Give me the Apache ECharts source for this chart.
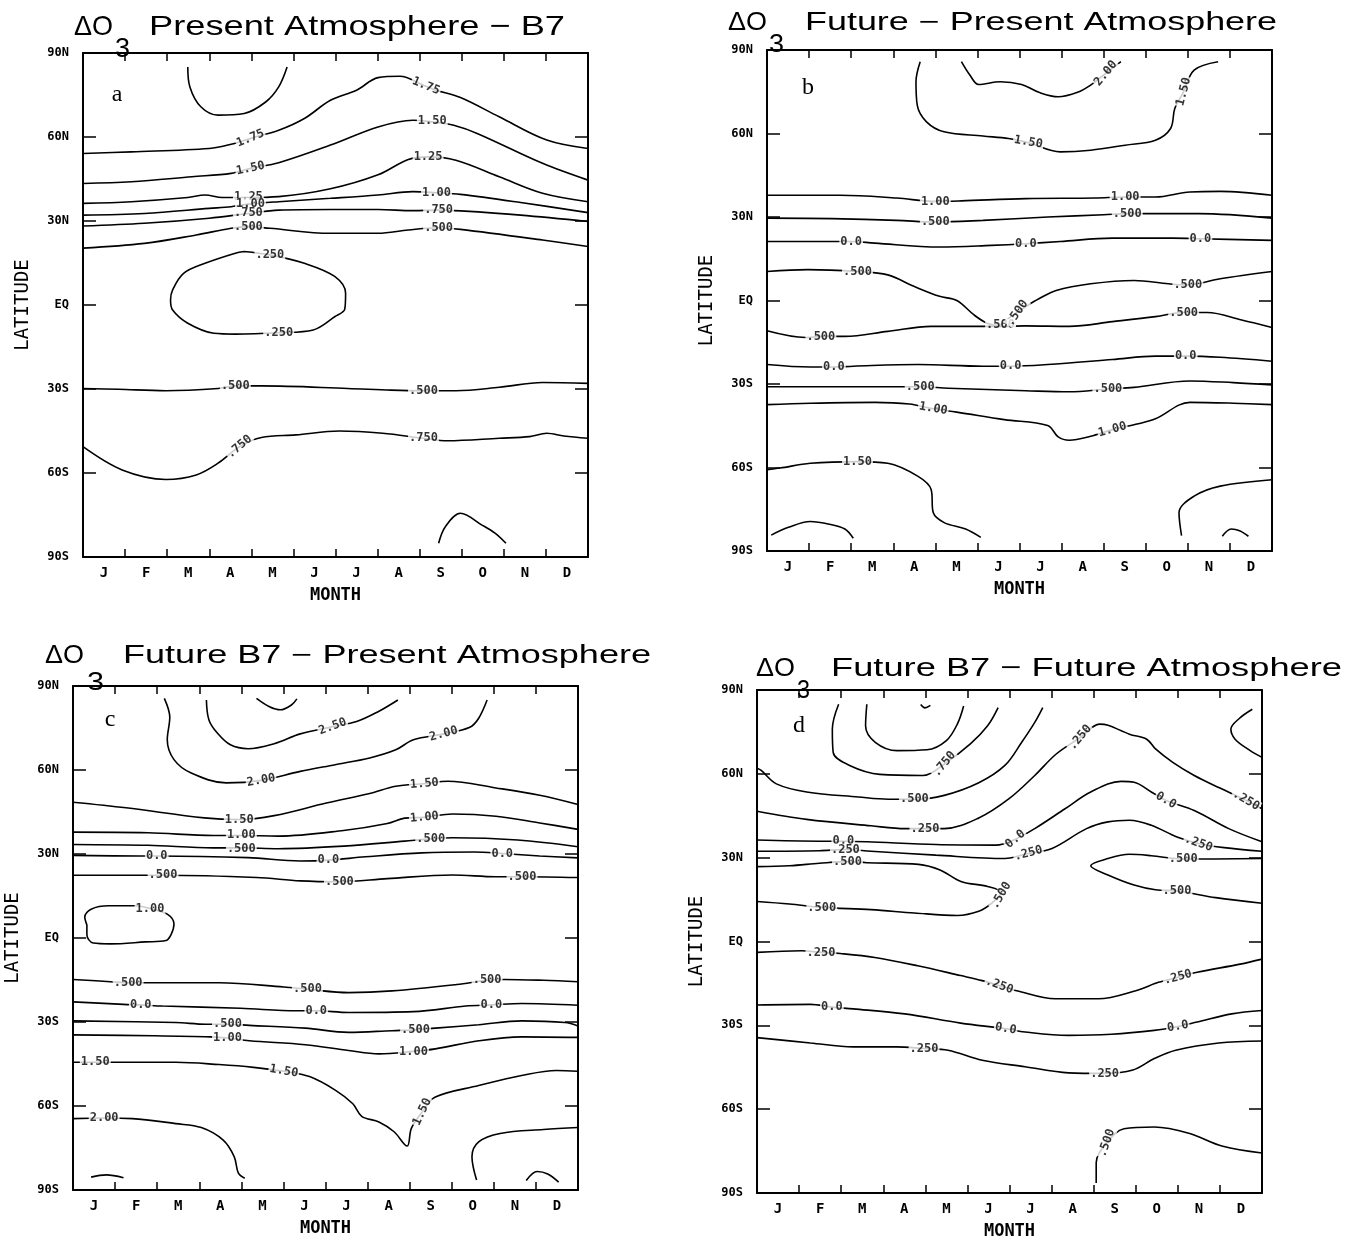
<!DOCTYPE html>
<html><head><meta charset="utf-8">
<script src="https://cdn.jsdelivr.net/npm/echarts@6/dist/echarts.min.js"></script>
<style>html,body{margin:0;padding:0;background:#fff}#c{width:1359px;height:1246px}</style>
</head><body><div id="c"></div>
<script>
// ---------- tick labels ----------
const months = ['J','F','M','A','M','J','J','A','S','O','N','D'];
const latLabels = ['90S','60S','30S','EQ','30N','60N','90N'];

// ---------- panel a contours [month, latitude] ----------
const A_arcTop = [[2.49,85],[2.54,77.9],[2.80,70.8],[3.21,67.8],[3.83,68.4],[4.34,72.5],[4.65,77.9],[4.85,85]];
const A_175 = [[0,54.1],[1.15,54.7],[3.0,55.9],[3.52,57.4],[3.98,59.5],[4.65,62.4],[5.26,66.6],[5.88,73.1],[6.50,76.7],[7.01,81.2],[7.53,81.7],[8.09,78.5],[8.35,76.9],[8.97,74.1],[9.89,67.2],[11.02,58.9],[12,55.9]];
const A_150 = [[0,43.4],[1.15,44.0],[2.59,45.8],[3.52,47.0],[3.98,48.8],[4.65,50.8],[5.88,57.1],[7.01,63.6],[7.84,66.0],[8.30,65.4],[8.81,64.2],[9.38,61.2],[10.92,50.6],[12,44.6]];
const A_125 = [[0,36.3],[1.15,36.9],[2.49,38.4],[2.90,39.3],[3.31,38.4],[3.93,38.4],[4.65,38.7],[5.88,41.5],[7.01,46.5],[7.73,52.0],[8.2,52.9],[8.86,51.7],[9.89,45.8],[10.92,39.9],[12,36.9]];
const A_100 = [[0,32.1],[1.46,32.7],[3.0,34.5],[3.52,35.1],[3.98,36.1],[4.65,36.9],[5.88,38.1],[7.01,39.3],[7.84,40.5],[8.40,40.1],[8.97,39.5],[10.4,36.6],[12,33.0]];
const A_075 = [[0,28.2],[1.46,29.2],[3.0,31.0],[3.93,32.7],[4.65,33.9],[5.88,34.1],[7.01,34.1],[7.84,33.7],[8.45,33.9],[8.97,33.6],[10.4,32.1],[12,29.8]];
const A_050 = [[0,20.3],[1.46,22.0],[2.69,25.0],[3.52,27.4],[3.93,28.0],[4.44,27.4],[5.88,25.6],[7.01,25.6],[7.73,26.8],[8.45,27.6],[8.97,27.0],[10.92,23.2],[12,20.9]];
const A_025loop = [[3.83,19.1],[4.44,17.9],[5.26,14.9],[5.98,10.2],[6.24,4.2],[6.22,-1.5],[5.98,-4.2],[5.47,-8.9],[4.65,-9.9],[3.62,-10.4],[3.11,-10.1],[2.49,-6.5],[2.13,-1.8],[2.08,1.8],[2.13,5.4],[2.39,11.3],[2.90,14.9],[3.62,18.5],[3.83,19.1]];
const A_050s = [[0,-29.8],[0.84,-30.1],[1.97,-30.6],[3.21,-29.8],[3.62,-28.9],[4.24,-28.9],[6.29,-29.8],[7.32,-30.4],[8.09,-30.6],[8.86,-30.6],[9.89,-29.4],[10.92,-27.7],[12,-28.0]];
const A_075s = [[0,-50.6],[0.93,-58.9],[1.97,-62.3],[2.69,-60.7],[3.21,-56.5],[3.72,-50.6],[4.24,-47.3],[5.06,-46.4],[6.09,-45.0],[7.12,-45.8],[8.09,-47.6],[8.66,-48.5],[9.89,-47.6],[10.61,-47.0],[11.02,-45.8],[11.43,-46.8],[12,-47.6]];
const A_arcBot = [[8.45,-85.1],[8.61,-79.2],[8.97,-74.4],[9.48,-78.6],[9.79,-81.5],[10.05,-85.1]];
const A_labels = [['1.75',8.15,78.2,-22],['1.75',3.98,59.5,22],['1.50',3.98,48.8,12],['1.50',8.30,65.6,0],
  ['1.25',3.93,38.6,0],['1.00',3.98,36.0,0],['.750',3.93,32.8,0],['.500',3.93,28.0,0],
  ['1.25',8.2,52.9,0],['1.00',8.40,40.1,0],['.750',8.45,33.9,0],['.500',8.45,27.6,0],
  ['.250',4.44,17.9,0],['.250',4.65,-9.9,0],['.500',3.62,-28.9,0],['.500',8.09,-30.6,0],
  ['.750',3.72,-50.6,40],['.750',8.09,-47.6,0]];
const panelA = [A_arcTop,A_175,A_150,A_125,A_100,A_075,A_050,A_025loop,A_050s,A_075s,A_arcBot];

// ---------- panel b ----------
const B_200 = [[4.62,85.8],[4.82,81.0],[5.03,77.6],[5.54,78.6],[6.05,77.6],[6.46,74.8],[6.92,73.2],[7.38,74.8],[7.69,77.4],[8.05,81.6],[8.41,85.8]];
const B_150n = [[3.64,85.8],[3.54,78.6],[3.57,70.2],[3.79,64.2],[4.21,60.6],[5.13,59.1],[5.74,58.2],[6.21,56.7],[6.97,53.4],[7.69,54.0],[8.51,55.8],[9.23,57.6],[9.59,61.8],[9.69,69.0],[9.90,75.0],[10.15,82.8],[10.72,85.8]];
const B_100n = [[0,37.8],[1.74,37.8],[3.08,36.8],[4.0,35.6],[4.62,35.8],[6.15,36.6],[7.79,36.8],[8.51,37.2],[9.23,37.2],[10.05,39.0],[10.77,39.2],[12,37.8]];
const B_050n = [[0,29.6],[1.54,29.4],[3.08,28.8],[4.0,28.2],[5.13,28.8],[6.67,30.0],[8.0,30.8],[8.56,31.2],[10.26,31.2],[12,29.6]];
const B_000n = [[0,21.2],[1.33,21.2],[2.0,21.2],[2.56,20.6],[4.10,19.2],[5.33,19.8],[6.15,20.4],[6.97,21.2],[8.21,22.4],[9.64,22.4],[10.3,22.2],[12,21.6]];
const B_050v = [[0,10.4],[0.97,11.1],[2.15,10.4],[2.87,9.2],[3.49,5.1],[4.10,1.5],[4.51,0],[4.92,-5.2],[5.23,-8.2],[5.49,-9.0],[5.79,-5.8],[6.15,-2.2],[6.46,0.6],[6.87,3.6],[7.69,6.0],[8.72,7.2],[9.54,6.0],[10.0,5.6],[10.77,7.8],[12,10.4]];
const B_050s = [[0,-10.9],[0.92,-13.3],[1.28,-12.9],[1.85,-12.9],[2.87,-11.1],[3.90,-9.3],[5.13,-9.3],[5.59,-9.3],[6.15,-9.1],[7.18,-9.3],[8.21,-7.6],[9.23,-5.8],[9.90,-4.3],[10.46,-4.3],[11.28,-7.0],[12,-9.7]];
const B_000s = [[0,-23.0],[1.03,-23.9],[1.59,-23.9],[2.05,-23.6],[3.59,-23.0],[5.13,-23.6],[5.79,-23.6],[6.67,-23.0],[8.21,-21.2],[9.23,-20.0],[9.95,-20.0],[10.77,-20.4],[12,-21.8]];
const B_050s2 = [[0,-31.0],[1.54,-31.0],[2.87,-31.0],[3.64,-31.0],[4.31,-31.5],[6.15,-32.4],[7.18,-32.8],[8.10,-31.8],[8.72,-31.2],[10.05,-28.9],[11.08,-29.5],[12,-30.3]];
const B_100s = [[0,-37.4],[1.03,-36.9],[2.56,-36.6],[3.38,-37.2],[3.95,-38.9],[4.51,-40.1],[5.64,-42.8],[6.67,-44.9],[6.92,-49.0],[7.18,-50.2],[7.69,-48.8],[8.21,-46.4],[8.82,-44.3],[9.23,-42.5],[10.05,-36.6],[11.08,-36.9],[12,-37.4]];
const B_150s = [[0,-60.8],[0.31,-60.2],[1.03,-58.5],[2.15,-57.9],[2.87,-58.5],[3.59,-63.2],[3.90,-67.9],[3.95,-76.2],[4.21,-79.8],[4.72,-82.1],[5.08,-85.1]];
const B_150se = [[12,-64.4],[10.77,-66.7],[10.15,-70.3],[9.79,-76.2],[9.85,-84.5]];
const B_arc1 = [[0.10,-84.3],[0.51,-81.5],[1.03,-79.4],[1.49,-80.4],[1.85,-82.1],[2.05,-85.4]];
const B_arc2 = [[10.82,-84.7],[11.03,-82.1],[11.23,-82.7],[11.44,-84.7]];
const B_labels = [['2.00',8.05,81.6,50],['1.50',6.21,56.9,-10],['1.50',9.90,75.0,75],
  ['1.00',4.0,35.6,0],['1.00',8.51,37.2,0],['.500',4.0,28.2,0],['.500',8.56,31.2,0],
  ['0.0',2.0,21.2,0],['0.0',6.15,20.4,0],['0.0',10.3,22.2,0],
  ['.500',2.15,10.4,0],['.500',10.0,5.6,0],['.500',5.55,-8.8,0],['.500',5.95,-4.5,55],
  ['.500',1.28,-12.9,0],['.500',9.90,-4.3,0],
  ['0.0',1.59,-23.9,0],['0.0',5.79,-23.6,0],['0.0',9.95,-20.0,0],
  ['.500',3.64,-31.0,0],['.500',8.10,-31.8,0],['1.00',3.95,-38.9,-10],['1.00',8.21,-46.4,15],
  ['1.50',2.15,-57.9,0]];
const panelB = [B_200,B_150n,B_100n,B_050n,B_000n,B_050v,B_050s,B_000s,B_050s2,B_100s,B_150s,B_150se,B_arc1,B_arc2];

// ---------- panel c ----------
const C_arc = [[4.36,85.6],[4.67,82.6],[4.93,81.5],[5.19,83.2],[5.32,85.4]];
const C_250 = [[3.17,85.0],[3.23,77.9],[3.43,73.2],[3.74,69.0],[4.16,67.6],[4.78,69.4],[5.40,72.9],[6.17,75.5],[6.74,77.3],[7.26,80.9],[7.72,85.0]];
const C_200n = [[2.17,85.6],[2.30,78.8],[2.24,70.8],[2.40,63.7],[2.81,58.9],[3.64,55.4],[4.47,56.3],[5.40,59.5],[6.23,61.9],[7.05,64.3],[7.67,67.2],[8.09,70.8],[8.81,72.9],[9.43,75.3],[9.64,78.5],[9.84,85.0]];
const C_150n = [[0,48.5],[1.26,46.5],[3.12,42.9],[3.95,42.3],[4.78,43.7],[6.02,48.2],[7.05,51.6],[7.67,54.2],[8.35,55.1],[8.91,56.0],[10.05,53.6],[11.09,51.0],[12,47.7]];
const C_100n = [[0,37.8],[1.78,37.6],[3.33,36.6],[4.0,36.6],[4.88,36.4],[6.43,38.4],[7.47,40.9],[7.88,42.8],[8.35,43.1],[9.02,44.3],[10.05,43.5],[11.09,41.1],[12,38.8]];
const C_050n = [[0,33.4],[1.78,33.1],[3.33,32.2],[4.0,32.2],[4.88,31.9],[6.43,32.8],[7.88,34.6],[8.50,35.4],[9.02,35.8],[10.57,35.0],[12,32.6]];
const C_000n = [[0,29.5],[1.57,29.3],[1.99,29.3],[4.16,28.7],[5.40,27.5],[6.07,27.8],[6.95,29.0],[8.29,30.4],[9.53,30.7],[10.2,30.2],[11.09,29.3],[12,28.6]];
const C_050m = [[0,22.4],[1.68,22.4],[2.14,22.4],[4.36,21.6],[5.40,20.4],[6.33,20.1],[7.47,21.2],[9.02,22.5],[10.05,21.9],[10.67,21.9],[12,21.6]];
const C_100loop = [[0.33,4.7],[0.28,7.5],[0.43,10.3],[0.85,11.5],[1.47,11.5],[1.83,10.5],[2.24,8.5],[2.40,5.0],[2.33,1.2],[2.21,-0.9],[1.72,-1.4],[0.89,-2.1],[0.48,-1.8],[0.33,1.2],[0.33,4.7]];
const C_050s = [[0,-14.8],[0.89,-15.6],[1.31,-16.0],[1.82,-16.0],[3.47,-16.0],[5.01,-17.5],[5.57,-18.3],[6.55,-19.5],[7.58,-18.9],[9.12,-16.6],[9.84,-15.1],[10.25,-14.8],[11.18,-15.1],[12,-15.6]];
const C_000s = [[0,-22.8],[1.20,-23.7],[1.61,-23.9],[2.13,-24.3],[3.98,-25.1],[5.32,-26.0],[5.78,-26.0],[6.55,-26.6],[8.09,-26.3],[9.33,-24.3],[9.94,-23.9],[10.66,-23.4],[12,-24.0]];
const C_050s2 = [[0,-29.6],[2.44,-30.2],[3.16,-30.8],[3.67,-30.8],[4.19,-31.2],[5.52,-32.2],[6.55,-33.7],[7.58,-33.1],[8.14,-32.8],[8.61,-32.2],[9.64,-31.0],[10.66,-29.6],[11.69,-30.2],[12,-31.4]];
const C_100s = [[0,-34.6],[1.92,-34.9],[3.26,-35.3],[3.67,-35.7],[4.19,-36.7],[5.52,-38.1],[6.55,-40.2],[7.27,-41.4],[8.09,-40.5],[8.61,-39.6],[9.64,-36.7],[10.66,-35.3],[12,-35.5]];
const C_150s = [[0,-44.4],[0.53,-44.4],[1.10,-44.4],[2.44,-44.4],[3.47,-45.2],[4.29,-46.2],[5.01,-47.6],[5.62,-49.5],[6.24,-54.4],[6.65,-59.2],[6.86,-63.7],[7.27,-65.7],[7.63,-69.2],[7.94,-74.3],[8.04,-68.0],[8.30,-62.1],[8.61,-56.8],[9.64,-52.7],[10.66,-49.1],[11.49,-47.3],[12,-47.6]];
const C_200s = [[0,-64.5],[0.74,-64.3],[1.41,-64.5],[2.44,-66.3],[3.05,-67.7],[3.57,-72.2],[3.83,-78.1],[3.93,-84.0],[4.08,-85.8]];
const C_se = [[12,-67.7],[11.18,-68.4],[10.15,-69.8],[9.64,-72.8],[9.48,-78.1],[9.59,-86.4]];
const C_arc2 = [[0.43,-85.4],[0.79,-84.6],[1.20,-85.6]];
const C_arc3 = [[10.77,-86.6],[11.03,-83.4],[11.28,-84.3],[11.54,-87.2]];
const C_labels = [['2.50',6.17,75.5,20],['2.00',8.81,72.9,15],['2.00',4.47,56.3,10],
  ['1.50',8.35,55.1,5],['1.50',3.95,42.3,0],['1.00',8.35,43.1,5],['1.00',4.0,36.9,0],
  ['.500',8.50,35.4,0],['.500',4.0,32.0,0],
  ['0.0',1.99,29.3,0],['0.0',6.07,27.8,0],['0.0',10.2,30.2,0],
  ['.500',2.14,22.4,0],['.500',6.33,20.1,0],['.500',10.67,21.9,0],['1.00',1.83,10.5,0],
  ['.500',1.31,-16.0,0],['.500',5.57,-18.3,0],['.500',9.84,-15.1,0],
  ['0.0',1.61,-23.9,0],['0.0',5.78,-26.0,0],['0.0',9.94,-23.9,0],
  ['.500',3.67,-30.8,0],['.500',8.14,-32.8,0],['1.00',3.67,-35.7,0],['1.00',8.09,-40.5,0],
  ['1.50',0.53,-44.4,0],['1.50',5.01,-47.6,-10],['1.50',8.30,-62.1,65],['2.00',0.74,-64.3,0]];
const panelC = [C_arc,C_250,C_200n,C_150n,C_100n,C_050n,C_000n,C_050m,C_100loop,C_050s,C_000s,C_050s2,C_100s,C_150s,C_200s,C_se,C_arc2,C_arc3];

// ---------- panel d ----------
const D_tiny = [[3.89,84.8],[3.99,83.6],[4.12,84.5]];
const D_in = [[2.61,84.9],[2.58,77.2],[2.81,71.3],[3.33,68.3],[4.04,68.6],[4.50,71.9],[4.76,77.8],[4.91,84.3]];
const D_075 = [[1.94,84.9],[1.79,76.0],[1.81,67.7],[2.20,63.0],[2.92,59.8],[3.94,59.4],[4.45,63.5],[5.07,70.7],[5.48,77.2],[5.73,83.7]];
const D_050n = [[0,62.0],[0.10,61.2],[0.46,56.4],[1.18,53.5],[2.41,51.7],[3.12,50.9],[3.74,50.9],[4.45,52.3],[5.27,56.8],[5.89,63.0],[6.29,71.3],[6.60,78.4],[6.79,83.7]];
const D_025a = [[0,46.6],[1.18,43.7],[2.71,41.4],[3.53,40.4],[3.99,40.4],[4.45,40.4],[5.27,44.2],[5.99,51.1],[6.60,59.4],[7.11,67.1],[7.68,73.0],[8.14,77.8],[8.34,77.4],[8.85,74.2],[9.26,72.4],[9.47,68.9],[9.88,64.1],[10.39,59.4],[11.0,54.9],[11.62,50.5],[12,47.5]];
const D_000n = [[0,36.3],[1.48,35.9],[2.05,35.9],[2.61,35.7],[4.25,34.7],[5.68,34.5],[6.14,36.6],[6.60,40.4],[7.32,47.5],[7.93,53.5],[8.65,57.3],[8.96,57.0],[9.37,53.5],[9.72,50.5],[10.39,46.9],[11.21,40.4],[12,35.7]];
const D_025b = [[0,32.3],[1.48,32.5],[2.10,32.9],[2.71,32.3],[4.25,30.9],[5.89,29.7],[6.45,31.5],[7.01,33.3],[7.83,40.4],[8.34,42.8],[8.85,43.4],[9.37,41.6],[9.98,37.4],[10.49,35.1],[11.1,33.6],[12,32.3]];
const D_050tL = [[0,26.8],[0.77,27.1],[1.48,28.0],[2.15,28.6],[2.61,28.2],[3.84,27.6],[4.35,25.6],[4.86,21.4],[5.48,19.7],[5.80,17.5],[5.58,13.7],[5.27,10.8],[4.76,9.3],[3.74,10.2],[2.71,11.4],[1.54,12.2],[0.77,13.4],[0,14.3]];
const D_050tR = [[12,29.7],[10.13,29.5],[9.37,30.7],[8.85,31.2],[8.34,29.7],[7.93,27.1],[8.34,23.8],[8.96,20.2],[9.47,18.5],[9.98,18.1],[10.90,15.7],[12,13.7]];
const D_tr = [[11.77,83.1],[11.46,79.8],[11.26,76.0],[11.36,72.4],[11.72,68.3],[12,65.9]];
const D_025s1 = [[0,-3.9],[1.06,-3.3],[1.52,-3.9],[1.98,-4.3],[2.80,-5.7],[3.82,-8.7],[4.84,-12.2],[5.35,-14.0],[5.76,-15.8],[6.17,-17.6],[7.09,-20.5],[8.11,-20.5],[9.0,-17.6],[9.54,-14.6],[10.0,-12.8],[10.46,-11.0],[11.48,-8.1],[12,-6.3]];
const D_000s = [[0,-22.7],[1.27,-22.5],[1.78,-23.5],[2.29,-24.1],[3.51,-25.9],[4.84,-29.2],[5.91,-31.2],[6.37,-32.4],[7.40,-33.6],[8.42,-33.2],[9.44,-31.8],[10.0,-30.4],[10.46,-28.8],[11.28,-25.9],[12,-24.7]];
const D_025s2 = [[0,-34.4],[1.27,-36.3],[2.29,-37.7],[3.31,-37.7],[3.97,-38.3],[4.54,-38.9],[5.35,-42.5],[6.37,-44.8],[7.40,-47.0],[8.26,-47.2],[8.93,-46.0],[9.44,-41.9],[9.95,-38.9],[10.97,-36.3],[12,-35.6]];
const D_050s = [[8.06,-86.4],[8.06,-79.2],[8.31,-72.1],[8.72,-67.0],[9.44,-66.4],[10.26,-68.6],[11.07,-73.3],[12,-75.7]];
const D_labels = [['.750',4.45,63.5,50],['.500',3.74,50.9,0],['.250',3.99,40.4,0],['.250',7.68,73.0,50],['.250',11.62,50.5,-30],
  ['0.0',2.05,35.9,0],['0.0',6.14,36.6,40],['0.0',9.72,50.5,-30],
  ['.250',2.10,32.9,0],['.250',6.45,31.5,15],['.250',10.49,35.1,-20],
  ['.500',2.15,28.6,0],['.500',5.80,16.5,60],['.500',10.13,29.5,0],['.500',9.98,18.1,0],['.500',1.54,12.2,0],
  ['.250',1.52,-3.9,0],['.250',5.76,-15.8,-20],['.250',10.0,-12.8,15],
  ['0.0',1.78,-23.5,0],['0.0',5.91,-31.2,-10],['0.0',10.0,-30.4,10],
  ['.250',3.97,-38.3,0],['.250',8.26,-47.2,0],['.500',8.31,-72.1,70]];
const panelD = [D_tiny,D_in,D_075,D_050n,D_025a,D_000n,D_025b,D_050tL,D_050tR,D_tr,D_025s1,D_000s,D_025s2,D_050s];

// ---------- layout ----------
const grids = [
  {left:83, top:53, width:505, height:504},
  {left:767, top:50, width:505, height:501},
  {left:73, top:686, width:505, height:504},
  {left:757, top:690, width:505, height:503}
];
const panels = [[panelA,A_labels],[panelB,B_labels],[panelC,C_labels],[panelD,D_labels]];

const MONO = "'DejaVu Sans Mono', monospace";
const xAxes = [], yAxes = [], series = [];
grids.forEach((g, i) => {
  xAxes.push({gridIndex:i, type:'value', position:'bottom', min:0, max:12, interval:1,
    axisLine:{onZero:false, lineStyle:{color:'#000', width:2}}, axisTick:{inside:true, length:8, lineStyle:{width:1.5, color:'#000'}},
    axisLabel:{show:false}, splitLine:{show:false}});
  xAxes.push({gridIndex:i, type:'category', position:'bottom', data:months, boundaryGap:true,
    axisLine:{show:false, onZero:false}, axisTick:{show:false}, splitLine:{show:false},
    axisLabel:{color:'#000', fontFamily:MONO, fontWeight:'bold', fontSize:14, margin:9},
    name:'MONTH', nameLocation:'middle', nameGap:30,
    nameTextStyle:{color:'#000', fontFamily:MONO, fontWeight:'bold', fontSize:17}});
  xAxes.push({gridIndex:i, type:'value', position:'top', min:0, max:12, interval:1,
    axisLine:{onZero:false, lineStyle:{color:'#000', width:2}}, axisTick:{inside:true, length:8, lineStyle:{width:1.5, color:'#000'}},
    axisLabel:{show:false}, splitLine:{show:false}});
  yAxes.push({gridIndex:i, type:'value', position:'left', min:-90, max:90, interval:30,
    axisLine:{onZero:false, lineStyle:{color:'#000', width:2}}, axisTick:{inside:true, length:13, lineStyle:{width:1.5, color:'#000'}},
    axisLabel:{color:'#000', fontFamily:MONO, fontWeight:'bold', fontSize:12, margin:14,
      formatter:v => latLabels[Math.round((v + 90) / 30)]},
    splitLine:{show:false},
    name:'LATITUDE', nameLocation:'middle', nameGap:50, nameRotate:90,
    nameTextStyle:{color:'#000', fontFamily:MONO, fontSize:19}});
  yAxes.push({gridIndex:i, type:'value', position:'right', min:-90, max:90, interval:30,
    axisLine:{onZero:false, lineStyle:{color:'#000', width:2}}, axisTick:{inside:true, length:13, lineStyle:{width:1.5, color:'#000'}},
    axisLabel:{show:false}, splitLine:{show:false}});
  const [lines, labels] = panels[i];
  lines.forEach(pts => series.push({type:'line', xAxisIndex:3*i, yAxisIndex:2*i, data:pts,
    smooth:0.35, symbol:'none', silent:true, z:2,
    lineStyle:{color:'#000', width:1.6}}));
  series.push({type:'scatter', xAxisIndex:3*i, yAxisIndex:2*i, symbolSize:1, silent:true, z:5,
    itemStyle:{color:'rgba(0,0,0,0)'},
    data: labels.map(l => ({name:l[0], value:[l[1], l[2]], label:{rotate:l[3]}})),
    label:{show:true, position:'inside', formatter:p => p.name, color:'#000',
      fontFamily:MONO, fontWeight:'bold', fontSize:12, backgroundColor:'#fff', padding:[0,1]}});
});

// ---------- titles (text fitted to reference spans) ----------
const meas = document.createElement('canvas').getContext('2d');
const TFONT = "'Liberation Sans', Arial, sans-serif";
function fitText(t, x0, x1, ym, size) {
  const font = size + 'px ' + TFONT;
  meas.font = font;
  const w = meas.measureText(t).width;
  return {type:'text', x:x0, y:ym + 0.07 * size, scaleX:(x1 - x0) / w, silent:true,
    style:{text:t, font:font, fill:'#000', textAlign:'left', textVerticalAlign:'middle'}};
}
const graphics = [
  fitText('ΔO', 74, 113, 25, 28), fitText('3', 115, 130, 47.5, 28), fitText('Present Atmosphere − B7', 149, 565, 25, 28),
  fitText('ΔO', 728, 767, 21.5, 25), fitText('3', 769, 784, 43.5, 25), fitText('Future − Present Atmosphere', 805, 1277, 21.5, 25),
  fitText('ΔO', 45, 84, 654, 25), fitText('3', 87, 104, 681, 25), fitText('Future B7 − Present Atmosphere', 123, 651, 654, 25),
  fitText('ΔO', 756, 795, 667, 26), fitText('3', 797, 810, 689, 26), fitText('Future B7 − Future Atmosphere', 831, 1342, 667, 26)
];
[['a',117,95],['b',808,88],['c',110,720],['d',799,726]].forEach(p => graphics.push({
  type:'text', x:p[1], y:p[2], silent:true,
  style:{text:p[0], font:"24px 'Liberation Serif', serif", fill:'#000', textAlign:'center', textVerticalAlign:'middle'}}));

const chart = echarts.init(document.getElementById('c'), null, {renderer:'canvas'});
chart.setOption({
  animation:false,
  backgroundColor:'#fff',
  grid: grids,
  xAxis: xAxes,
  yAxis: yAxes,
  series: series,
  graphic: graphics
});
</script>
</body></html>
